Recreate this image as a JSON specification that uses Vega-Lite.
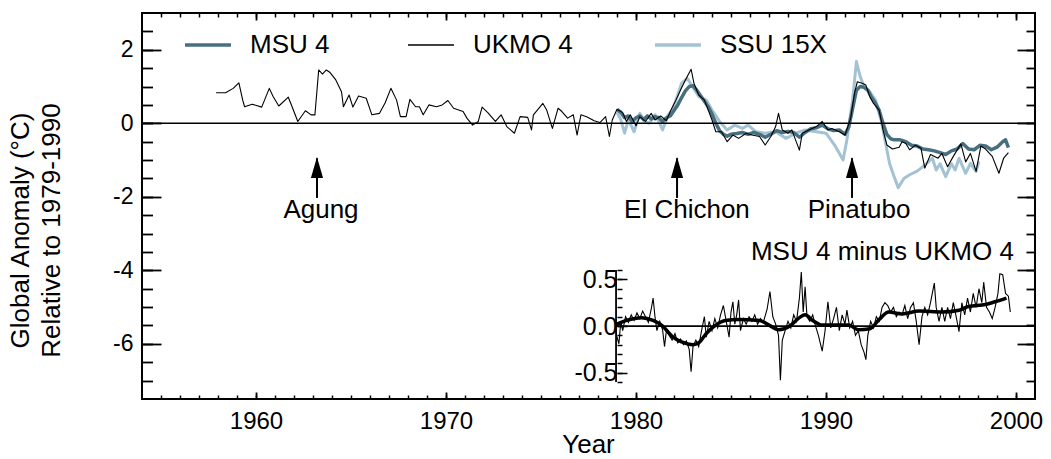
{
  "$schema": "https://vega.github.io/schema/vega-lite/v6.json",
  "width": 893,
  "height": 386,
  "autosize": {"type": "none"},
  "padding": {"left": 142, "top": 13, "right": 16, "bottom": 60},
  "background": "white",
  "config": {
    "view": {"stroke": "black", "strokeWidth": 2},
    "font": "Liberation Sans",
    "axis": {"tickColor": "black", "labelColor": "black", "titleColor": "black", "labelFont": "Liberation Sans", "titleFont": "Liberation Sans", "grid": false, "domain": false, "labelFlush": false},
    "legend": {"labelFont": "Liberation Sans", "labelColor": "black"},
    "text": {"font": "Liberation Sans", "fontSize": 26, "color": "black"}
  },
  "datasets": {
    "main": [
      {"series": "SSU 15X", "year": 1979.0, "value": 0.3},
      {"series": "SSU 15X", "year": 1979.2, "value": 0.1},
      {"series": "SSU 15X", "year": 1979.4, "value": -0.27},
      {"series": "SSU 15X", "year": 1979.6, "value": 0.1},
      {"series": "SSU 15X", "year": 1979.9, "value": -0.23},
      {"series": "SSU 15X", "year": 1980.2, "value": 0.27},
      {"series": "SSU 15X", "year": 1980.45, "value": 0.05},
      {"series": "SSU 15X", "year": 1980.7, "value": 0.0},
      {"series": "SSU 15X", "year": 1981.0, "value": 0.23},
      {"series": "SSU 15X", "year": 1981.2, "value": 0.05},
      {"series": "SSU 15X", "year": 1981.4, "value": -0.18},
      {"series": "SSU 15X", "year": 1981.7, "value": 0.23},
      {"series": "SSU 15X", "year": 1981.9, "value": 0.35},
      {"series": "SSU 15X", "year": 1982.1, "value": 0.63},
      {"series": "SSU 15X", "year": 1982.4, "value": 1.09},
      {"series": "SSU 15X", "year": 1982.7, "value": 1.22},
      {"series": "SSU 15X", "year": 1983.0, "value": 0.98},
      {"series": "SSU 15X", "year": 1983.3, "value": 0.73},
      {"series": "SSU 15X", "year": 1983.7, "value": 0.63},
      {"series": "SSU 15X", "year": 1984.0, "value": 0.36},
      {"series": "SSU 15X", "year": 1984.4, "value": 0.05},
      {"series": "SSU 15X", "year": 1984.8, "value": -0.18},
      {"series": "SSU 15X", "year": 1985.2, "value": -0.05},
      {"series": "SSU 15X", "year": 1985.6, "value": -0.14},
      {"series": "SSU 15X", "year": 1985.9, "value": -0.05},
      {"series": "SSU 15X", "year": 1986.3, "value": -0.23},
      {"series": "SSU 15X", "year": 1986.8, "value": -0.27},
      {"series": "SSU 15X", "year": 1987.35, "value": -0.23},
      {"series": "SSU 15X", "year": 1987.9, "value": -0.41},
      {"series": "SSU 15X", "year": 1988.4, "value": -0.27},
      {"series": "SSU 15X", "year": 1988.9, "value": -0.18},
      {"series": "SSU 15X", "year": 1989.5, "value": -0.23},
      {"series": "SSU 15X", "year": 1990.0, "value": -0.27},
      {"series": "SSU 15X", "year": 1990.5, "value": -0.63},
      {"series": "SSU 15X", "year": 1990.9, "value": -1.0},
      {"series": "SSU 15X", "year": 1991.1, "value": -0.45},
      {"series": "SSU 15X", "year": 1991.4, "value": 0.63},
      {"series": "SSU 15X", "year": 1991.6, "value": 1.68},
      {"series": "SSU 15X", "year": 1991.8, "value": 1.27},
      {"series": "SSU 15X", "year": 1992.0, "value": 1.0},
      {"series": "SSU 15X", "year": 1992.3, "value": 0.86},
      {"series": "SSU 15X", "year": 1992.6, "value": 0.63},
      {"series": "SSU 15X", "year": 1992.9, "value": 0.09},
      {"series": "SSU 15X", "year": 1993.1, "value": -0.45},
      {"series": "SSU 15X", "year": 1993.35, "value": -1.1},
      {"series": "SSU 15X", "year": 1993.55, "value": -1.4},
      {"series": "SSU 15X", "year": 1993.8, "value": -1.75},
      {"series": "SSU 15X", "year": 1994.1, "value": -1.5},
      {"series": "SSU 15X", "year": 1994.4, "value": -1.4},
      {"series": "SSU 15X", "year": 1994.8, "value": -1.3},
      {"series": "SSU 15X", "year": 1995.1, "value": -1.18},
      {"series": "SSU 15X", "year": 1995.4, "value": -1.04},
      {"series": "SSU 15X", "year": 1995.6, "value": -0.95},
      {"series": "SSU 15X", "year": 1995.8, "value": -1.27},
      {"series": "SSU 15X", "year": 1996.0, "value": -1.1},
      {"series": "SSU 15X", "year": 1996.3, "value": -1.45},
      {"series": "SSU 15X", "year": 1996.6, "value": -1.1},
      {"series": "SSU 15X", "year": 1996.8, "value": -1.27},
      {"series": "SSU 15X", "year": 1997.0, "value": -0.95},
      {"series": "SSU 15X", "year": 1997.35, "value": -1.36},
      {"series": "SSU 15X", "year": 1997.6, "value": -1.09},
      {"series": "SSU 15X", "year": 1997.9, "value": -1.31},
      {"series": "SSU 15X", "year": 1998.05, "value": -1.04},

      {"series": "MSU 4", "year": 1979.0, "value": 0.38},
      {"series": "MSU 4", "year": 1979.2, "value": 0.3},
      {"series": "MSU 4", "year": 1979.4, "value": 0.15},
      {"series": "MSU 4", "year": 1979.6, "value": 0.2},
      {"series": "MSU 4", "year": 1979.8, "value": 0.05},
      {"series": "MSU 4", "year": 1980.0, "value": 0.15},
      {"series": "MSU 4", "year": 1980.2, "value": 0.2},
      {"series": "MSU 4", "year": 1980.4, "value": 0.1},
      {"series": "MSU 4", "year": 1980.6, "value": 0.2},
      {"series": "MSU 4", "year": 1980.8, "value": 0.12},
      {"series": "MSU 4", "year": 1981.0, "value": 0.18},
      {"series": "MSU 4", "year": 1981.2, "value": 0.15},
      {"series": "MSU 4", "year": 1981.4, "value": 0.05},
      {"series": "MSU 4", "year": 1981.6, "value": 0.15},
      {"series": "MSU 4", "year": 1981.8, "value": 0.2},
      {"series": "MSU 4", "year": 1982.0, "value": 0.35},
      {"series": "MSU 4", "year": 1982.2, "value": 0.5},
      {"series": "MSU 4", "year": 1982.4, "value": 0.7},
      {"series": "MSU 4", "year": 1982.6, "value": 0.88},
      {"series": "MSU 4", "year": 1982.8, "value": 1.0},
      {"series": "MSU 4", "year": 1983.0, "value": 1.02},
      {"series": "MSU 4", "year": 1983.2, "value": 0.9},
      {"series": "MSU 4", "year": 1983.4, "value": 0.75},
      {"series": "MSU 4", "year": 1983.6, "value": 0.6},
      {"series": "MSU 4", "year": 1983.8, "value": 0.45},
      {"series": "MSU 4", "year": 1984.0, "value": 0.25},
      {"series": "MSU 4", "year": 1984.2, "value": 0.0},
      {"series": "MSU 4", "year": 1984.4, "value": -0.2},
      {"series": "MSU 4", "year": 1984.6, "value": -0.3},
      {"series": "MSU 4", "year": 1984.8, "value": -0.35},
      {"series": "MSU 4", "year": 1985.0, "value": -0.3},
      {"series": "MSU 4", "year": 1985.3, "value": -0.28},
      {"series": "MSU 4", "year": 1985.6, "value": -0.25},
      {"series": "MSU 4", "year": 1985.9, "value": -0.3},
      {"series": "MSU 4", "year": 1986.2, "value": -0.25},
      {"series": "MSU 4", "year": 1986.5, "value": -0.3},
      {"series": "MSU 4", "year": 1986.8, "value": -0.38},
      {"series": "MSU 4", "year": 1987.1, "value": -0.3},
      {"series": "MSU 4", "year": 1987.4, "value": -0.2},
      {"series": "MSU 4", "year": 1987.7, "value": -0.25},
      {"series": "MSU 4", "year": 1988.0, "value": -0.22},
      {"series": "MSU 4", "year": 1988.3, "value": -0.25},
      {"series": "MSU 4", "year": 1988.6, "value": -0.38},
      {"series": "MSU 4", "year": 1988.9, "value": -0.25},
      {"series": "MSU 4", "year": 1989.2, "value": -0.15},
      {"series": "MSU 4", "year": 1989.5, "value": -0.12},
      {"series": "MSU 4", "year": 1989.8, "value": -0.05},
      {"series": "MSU 4", "year": 1990.1, "value": -0.15},
      {"series": "MSU 4", "year": 1990.4, "value": -0.2},
      {"series": "MSU 4", "year": 1990.7, "value": -0.18},
      {"series": "MSU 4", "year": 1991.0, "value": -0.3},
      {"series": "MSU 4", "year": 1991.2, "value": -0.1},
      {"series": "MSU 4", "year": 1991.4, "value": 0.4},
      {"series": "MSU 4", "year": 1991.6, "value": 0.9},
      {"series": "MSU 4", "year": 1991.8, "value": 1.0},
      {"series": "MSU 4", "year": 1992.0, "value": 0.98},
      {"series": "MSU 4", "year": 1992.2, "value": 0.9},
      {"series": "MSU 4", "year": 1992.4, "value": 0.7},
      {"series": "MSU 4", "year": 1992.6, "value": 0.55},
      {"series": "MSU 4", "year": 1992.8, "value": 0.35},
      {"series": "MSU 4", "year": 1993.0, "value": 0.0},
      {"series": "MSU 4", "year": 1993.2, "value": -0.3},
      {"series": "MSU 4", "year": 1993.4, "value": -0.42},
      {"series": "MSU 4", "year": 1993.6, "value": -0.45},
      {"series": "MSU 4", "year": 1993.9, "value": -0.45},
      {"series": "MSU 4", "year": 1994.2, "value": -0.5},
      {"series": "MSU 4", "year": 1994.5, "value": -0.6},
      {"series": "MSU 4", "year": 1994.8, "value": -0.62},
      {"series": "MSU 4", "year": 1995.1, "value": -0.7},
      {"series": "MSU 4", "year": 1995.4, "value": -0.72},
      {"series": "MSU 4", "year": 1995.7, "value": -0.75},
      {"series": "MSU 4", "year": 1996.0, "value": -0.8},
      {"series": "MSU 4", "year": 1996.3, "value": -0.85},
      {"series": "MSU 4", "year": 1996.6, "value": -0.75},
      {"series": "MSU 4", "year": 1996.9, "value": -0.7},
      {"series": "MSU 4", "year": 1997.2, "value": -0.55},
      {"series": "MSU 4", "year": 1997.5, "value": -0.7},
      {"series": "MSU 4", "year": 1997.8, "value": -0.72},
      {"series": "MSU 4", "year": 1998.1, "value": -0.6},
      {"series": "MSU 4", "year": 1998.4, "value": -0.62},
      {"series": "MSU 4", "year": 1998.7, "value": -0.72},
      {"series": "MSU 4", "year": 1999.0, "value": -0.65},
      {"series": "MSU 4", "year": 1999.3, "value": -0.5},
      {"series": "MSU 4", "year": 1999.45, "value": -0.45},
      {"series": "MSU 4", "year": 1999.6, "value": -0.66},

      {"series": "UKMO 4", "year": 1957.9, "value": 0.83},
      {"series": "UKMO 4", "year": 1958.4, "value": 0.83},
      {"series": "UKMO 4", "year": 1958.8, "value": 0.95},
      {"series": "UKMO 4", "year": 1959.1, "value": 1.1},
      {"series": "UKMO 4", "year": 1959.3, "value": 0.63},
      {"series": "UKMO 4", "year": 1959.4, "value": 0.45},
      {"series": "UKMO 4", "year": 1959.8, "value": 0.52},
      {"series": "UKMO 4", "year": 1960.3, "value": 0.44},
      {"series": "UKMO 4", "year": 1960.7, "value": 0.95},
      {"series": "UKMO 4", "year": 1960.9, "value": 0.73},
      {"series": "UKMO 4", "year": 1961.2, "value": 0.47},
      {"series": "UKMO 4", "year": 1961.7, "value": 0.71},
      {"series": "UKMO 4", "year": 1961.9, "value": 0.45},
      {"series": "UKMO 4", "year": 1962.2, "value": 0.05},
      {"series": "UKMO 4", "year": 1962.6, "value": 0.34},
      {"series": "UKMO 4", "year": 1962.9, "value": 0.23},
      {"series": "UKMO 4", "year": 1963.1, "value": 0.23},
      {"series": "UKMO 4", "year": 1963.3, "value": 1.45},
      {"series": "UKMO 4", "year": 1963.5, "value": 1.34},
      {"series": "UKMO 4", "year": 1963.7, "value": 1.45},
      {"series": "UKMO 4", "year": 1963.9, "value": 1.38},
      {"series": "UKMO 4", "year": 1964.2, "value": 1.18},
      {"series": "UKMO 4", "year": 1964.5, "value": 0.86},
      {"series": "UKMO 4", "year": 1964.6, "value": 0.45},
      {"series": "UKMO 4", "year": 1964.9, "value": 0.77},
      {"series": "UKMO 4", "year": 1965.1, "value": 0.44},
      {"series": "UKMO 4", "year": 1965.4, "value": 0.74},
      {"series": "UKMO 4", "year": 1965.8, "value": 0.68},
      {"series": "UKMO 4", "year": 1966.1, "value": 0.23},
      {"series": "UKMO 4", "year": 1966.5, "value": 0.27},
      {"series": "UKMO 4", "year": 1966.8, "value": 0.56},
      {"series": "UKMO 4", "year": 1967.1, "value": 0.95},
      {"series": "UKMO 4", "year": 1967.4, "value": 0.63},
      {"series": "UKMO 4", "year": 1967.6, "value": 0.18},
      {"series": "UKMO 4", "year": 1967.9, "value": 0.18},
      {"series": "UKMO 4", "year": 1968.1, "value": 0.65},
      {"series": "UKMO 4", "year": 1968.4, "value": 0.45},
      {"series": "UKMO 4", "year": 1968.6, "value": 0.45},
      {"series": "UKMO 4", "year": 1968.8, "value": 0.23},
      {"series": "UKMO 4", "year": 1969.1, "value": 0.5},
      {"series": "UKMO 4", "year": 1969.5, "value": 0.45},
      {"series": "UKMO 4", "year": 1969.8, "value": 0.5},
      {"series": "UKMO 4", "year": 1970.1, "value": 0.62},
      {"series": "UKMO 4", "year": 1970.4, "value": 0.41},
      {"series": "UKMO 4", "year": 1970.9, "value": 0.32},
      {"series": "UKMO 4", "year": 1971.1, "value": 0.14},
      {"series": "UKMO 4", "year": 1971.4, "value": -0.05},
      {"series": "UKMO 4", "year": 1971.7, "value": 0.05},
      {"series": "UKMO 4", "year": 1971.9, "value": 0.44},
      {"series": "UKMO 4", "year": 1972.2, "value": 0.29},
      {"series": "UKMO 4", "year": 1972.6, "value": 0.05},
      {"series": "UKMO 4", "year": 1972.9, "value": 0.23},
      {"series": "UKMO 4", "year": 1973.2, "value": -0.09},
      {"series": "UKMO 4", "year": 1973.6, "value": -0.27},
      {"series": "UKMO 4", "year": 1973.9, "value": 0.18},
      {"series": "UKMO 4", "year": 1974.3, "value": 0.16},
      {"series": "UKMO 4", "year": 1974.5, "value": -0.18},
      {"series": "UKMO 4", "year": 1974.6, "value": 0.23},
      {"series": "UKMO 4", "year": 1975.1, "value": 0.54},
      {"series": "UKMO 4", "year": 1975.3, "value": 0.36},
      {"series": "UKMO 4", "year": 1975.6, "value": -0.14},
      {"series": "UKMO 4", "year": 1975.9, "value": 0.41},
      {"series": "UKMO 4", "year": 1976.1, "value": 0.32},
      {"series": "UKMO 4", "year": 1976.4, "value": 0.14},
      {"series": "UKMO 4", "year": 1976.7, "value": 0.23},
      {"series": "UKMO 4", "year": 1976.9, "value": -0.32},
      {"series": "UKMO 4", "year": 1977.1, "value": 0.23},
      {"series": "UKMO 4", "year": 1977.4, "value": 0.18},
      {"series": "UKMO 4", "year": 1977.8, "value": 0.07},
      {"series": "UKMO 4", "year": 1978.1, "value": 0.02},
      {"series": "UKMO 4", "year": 1978.4, "value": 0.18},
      {"series": "UKMO 4", "year": 1978.6, "value": -0.36},
      {"series": "UKMO 4", "year": 1978.75, "value": 0.09},
      {"series": "UKMO 4", "year": 1979.0, "value": 0.38},
      {"series": "UKMO 4", "year": 1979.3, "value": 0.29},
      {"series": "UKMO 4", "year": 1979.5, "value": 0.05},
      {"series": "UKMO 4", "year": 1979.7, "value": 0.23},
      {"series": "UKMO 4", "year": 1980.0, "value": -0.07},
      {"series": "UKMO 4", "year": 1980.2, "value": 0.18},
      {"series": "UKMO 4", "year": 1980.5, "value": 0.05},
      {"series": "UKMO 4", "year": 1980.8, "value": 0.27},
      {"series": "UKMO 4", "year": 1981.0, "value": 0.09},
      {"series": "UKMO 4", "year": 1981.3, "value": 0.2},
      {"series": "UKMO 4", "year": 1981.6, "value": 0.07},
      {"series": "UKMO 4", "year": 1981.8, "value": 0.32},
      {"series": "UKMO 4", "year": 1982.1, "value": 0.63},
      {"series": "UKMO 4", "year": 1982.35, "value": 0.91},
      {"series": "UKMO 4", "year": 1982.6, "value": 1.18},
      {"series": "UKMO 4", "year": 1982.9, "value": 1.47},
      {"series": "UKMO 4", "year": 1983.05, "value": 1.09},
      {"series": "UKMO 4", "year": 1983.3, "value": 0.77},
      {"series": "UKMO 4", "year": 1983.6, "value": 0.63},
      {"series": "UKMO 4", "year": 1983.8, "value": 0.36},
      {"series": "UKMO 4", "year": 1984.0, "value": 0.09},
      {"series": "UKMO 4", "year": 1984.2, "value": -0.23},
      {"series": "UKMO 4", "year": 1984.5, "value": -0.23},
      {"series": "UKMO 4", "year": 1984.8, "value": -0.5},
      {"series": "UKMO 4", "year": 1985.1, "value": -0.32},
      {"series": "UKMO 4", "year": 1985.4, "value": -0.41},
      {"series": "UKMO 4", "year": 1985.8, "value": -0.27},
      {"series": "UKMO 4", "year": 1986.1, "value": -0.32},
      {"series": "UKMO 4", "year": 1986.5, "value": -0.36},
      {"series": "UKMO 4", "year": 1986.8, "value": -0.59},
      {"series": "UKMO 4", "year": 1987.1, "value": -0.36},
      {"series": "UKMO 4", "year": 1987.35, "value": -0.09},
      {"series": "UKMO 4", "year": 1987.5, "value": 0.27},
      {"series": "UKMO 4", "year": 1987.7, "value": -0.18},
      {"series": "UKMO 4", "year": 1988.0, "value": -0.27},
      {"series": "UKMO 4", "year": 1988.2, "value": -0.18},
      {"series": "UKMO 4", "year": 1988.6, "value": -0.73},
      {"series": "UKMO 4", "year": 1988.75, "value": -0.27},
      {"series": "UKMO 4", "year": 1989.1, "value": -0.18},
      {"series": "UKMO 4", "year": 1989.5, "value": -0.09},
      {"series": "UKMO 4", "year": 1989.8, "value": 0.05},
      {"series": "UKMO 4", "year": 1990.1, "value": -0.18},
      {"series": "UKMO 4", "year": 1990.3, "value": -0.14},
      {"series": "UKMO 4", "year": 1990.7, "value": -0.23},
      {"series": "UKMO 4", "year": 1991.0, "value": -0.32},
      {"series": "UKMO 4", "year": 1991.3, "value": 0.14},
      {"series": "UKMO 4", "year": 1991.5, "value": 0.82},
      {"series": "UKMO 4", "year": 1991.65, "value": 1.13},
      {"series": "UKMO 4", "year": 1991.9, "value": 1.09},
      {"series": "UKMO 4", "year": 1992.1, "value": 1.04},
      {"series": "UKMO 4", "year": 1992.3, "value": 0.73},
      {"series": "UKMO 4", "year": 1992.5, "value": 0.54},
      {"series": "UKMO 4", "year": 1992.8, "value": 0.36},
      {"series": "UKMO 4", "year": 1993.0, "value": -0.18},
      {"series": "UKMO 4", "year": 1993.2, "value": -0.59},
      {"series": "UKMO 4", "year": 1993.5, "value": -0.7},
      {"series": "UKMO 4", "year": 1993.85, "value": -0.65},
      {"series": "UKMO 4", "year": 1994.0, "value": -0.5},
      {"series": "UKMO 4", "year": 1994.2, "value": -0.55},
      {"series": "UKMO 4", "year": 1994.4, "value": -0.72},
      {"series": "UKMO 4", "year": 1994.7, "value": -0.6},
      {"series": "UKMO 4", "year": 1995.0, "value": -0.68},
      {"series": "UKMO 4", "year": 1995.2, "value": -1.22},
      {"series": "UKMO 4", "year": 1995.5, "value": -0.85},
      {"series": "UKMO 4", "year": 1995.9, "value": -0.95},
      {"series": "UKMO 4", "year": 1996.1, "value": -0.82},
      {"series": "UKMO 4", "year": 1996.4, "value": -1.18},
      {"series": "UKMO 4", "year": 1996.7, "value": -0.9},
      {"series": "UKMO 4", "year": 1997.1, "value": -0.56},
      {"series": "UKMO 4", "year": 1997.35, "value": -1.05},
      {"series": "UKMO 4", "year": 1997.6, "value": -0.82},
      {"series": "UKMO 4", "year": 1997.9, "value": -1.31},
      {"series": "UKMO 4", "year": 1998.15, "value": -0.62},
      {"series": "UKMO 4", "year": 1998.4, "value": -0.7},
      {"series": "UKMO 4", "year": 1998.75, "value": -0.9},
      {"series": "UKMO 4", "year": 1999.1, "value": -1.36},
      {"series": "UKMO 4", "year": 1999.35, "value": -0.95},
      {"series": "UKMO 4", "year": 1999.6, "value": -0.8}
    ],
    "events": [
      {"name": "Agung", "year": 1963.21, "label_year": 1963.42},
      {"name": "El Chichon", "year": 1982.16, "label_year": 1982.68},
      {"name": "Pinatubo", "year": 1991.37, "label_year": 1991.74}
    ],
    "inset_label": [
      {"name": "MSU 4 minus UKMO 4", "year": 1999.89, "value": 0.707}
    ],
    "inset_frame": [
      {"x1": 1978.95, "x2": 2001, "y1": 0, "y2": 0},
      {"x1": 1978.95, "x2": 1978.95, "y1": -0.6, "y2": 0.6}
    ],
    "diff": [
      {"year": 1978.9, "value": 0.0}, {"year": 1979.0, "value": -0.12}, {"year": 1979.1, "value": -0.19},
      {"year": 1979.2, "value": 0.05}, {"year": 1979.3, "value": -0.05}, {"year": 1979.45, "value": 0.1},
      {"year": 1979.6, "value": 0.04}, {"year": 1979.75, "value": 0.12}, {"year": 1979.9, "value": 0.06},
      {"year": 1980.05, "value": 0.14}, {"year": 1980.2, "value": 0.08}, {"year": 1980.35, "value": 0.16},
      {"year": 1980.5, "value": 0.1}, {"year": 1980.65, "value": 0.04}, {"year": 1980.8, "value": 0.18},
      {"year": 1980.9, "value": 0.3}, {"year": 1981.0, "value": 0.1}, {"year": 1981.1, "value": -0.05},
      {"year": 1981.25, "value": 0.05}, {"year": 1981.4, "value": -0.04}, {"year": 1981.5, "value": -0.22},
      {"year": 1981.6, "value": -0.05}, {"year": 1981.75, "value": -0.1}, {"year": 1981.9, "value": -0.15},
      {"year": 1982.05, "value": -0.08}, {"year": 1982.2, "value": -0.18}, {"year": 1982.35, "value": -0.14},
      {"year": 1982.5, "value": -0.2}, {"year": 1982.65, "value": -0.16}, {"year": 1982.8, "value": -0.25},
      {"year": 1982.9, "value": -0.49}, {"year": 1983.0, "value": -0.22}, {"year": 1983.15, "value": -0.15},
      {"year": 1983.3, "value": -0.22}, {"year": 1983.45, "value": -0.05}, {"year": 1983.6, "value": 0.1},
      {"year": 1983.7, "value": -0.12}, {"year": 1983.85, "value": 0.05}, {"year": 1984.0, "value": -0.05},
      {"year": 1984.15, "value": 0.08}, {"year": 1984.3, "value": -0.02}, {"year": 1984.45, "value": 0.12},
      {"year": 1984.6, "value": 0.22}, {"year": 1984.75, "value": 0.05}, {"year": 1984.9, "value": -0.12},
      {"year": 1985.0, "value": 0.15}, {"year": 1985.1, "value": 0.26}, {"year": 1985.2, "value": 0.02},
      {"year": 1985.3, "value": 0.12}, {"year": 1985.4, "value": 0.28}, {"year": 1985.5, "value": -0.05},
      {"year": 1985.65, "value": 0.08}, {"year": 1985.8, "value": 0.02}, {"year": 1985.95, "value": 0.1},
      {"year": 1986.1, "value": 0.05}, {"year": 1986.25, "value": 0.12}, {"year": 1986.4, "value": 0.02},
      {"year": 1986.55, "value": 0.08}, {"year": 1986.7, "value": 0.04}, {"year": 1986.9, "value": 0.18},
      {"year": 1987.05, "value": 0.37}, {"year": 1987.2, "value": 0.1}, {"year": 1987.35, "value": 0.02},
      {"year": 1987.5, "value": -0.1}, {"year": 1987.6, "value": -0.58}, {"year": 1987.7, "value": -0.15},
      {"year": 1987.85, "value": -0.05}, {"year": 1988.0, "value": 0.05}, {"year": 1988.15, "value": -0.02},
      {"year": 1988.3, "value": 0.12}, {"year": 1988.45, "value": 0.05}, {"year": 1988.6, "value": 0.3},
      {"year": 1988.7, "value": 0.58}, {"year": 1988.8, "value": 0.15}, {"year": 1988.9, "value": 0.42},
      {"year": 1989.0, "value": 0.1}, {"year": 1989.15, "value": 0.05}, {"year": 1989.3, "value": 0.12},
      {"year": 1989.45, "value": 0.0}, {"year": 1989.6, "value": -0.1}, {"year": 1989.8, "value": -0.27},
      {"year": 1989.95, "value": -0.05}, {"year": 1990.1, "value": 0.26}, {"year": 1990.25, "value": -0.02},
      {"year": 1990.4, "value": 0.08}, {"year": 1990.55, "value": 0.2}, {"year": 1990.7, "value": -0.05},
      {"year": 1990.85, "value": 0.12}, {"year": 1991.0, "value": 0.02}, {"year": 1991.1, "value": 0.17},
      {"year": 1991.25, "value": -0.02}, {"year": 1991.4, "value": 0.05}, {"year": 1991.55, "value": -0.1},
      {"year": 1991.7, "value": -0.05}, {"year": 1991.85, "value": -0.2}, {"year": 1992.0, "value": -0.28},
      {"year": 1992.1, "value": -0.36}, {"year": 1992.2, "value": -0.1}, {"year": 1992.35, "value": 0.05},
      {"year": 1992.5, "value": -0.02}, {"year": 1992.65, "value": 0.1}, {"year": 1992.8, "value": 0.05},
      {"year": 1992.95, "value": 0.2}, {"year": 1993.1, "value": 0.25}, {"year": 1993.25, "value": 0.22},
      {"year": 1993.4, "value": 0.15}, {"year": 1993.55, "value": 0.2}, {"year": 1993.7, "value": 0.1},
      {"year": 1993.85, "value": 0.15}, {"year": 1994.0, "value": 0.12}, {"year": 1994.15, "value": 0.22},
      {"year": 1994.3, "value": 0.08}, {"year": 1994.45, "value": 0.2}, {"year": 1994.6, "value": 0.25},
      {"year": 1994.75, "value": 0.05}, {"year": 1994.9, "value": -0.2}, {"year": 1995.05, "value": 0.1},
      {"year": 1995.2, "value": 0.2}, {"year": 1995.35, "value": 0.12}, {"year": 1995.5, "value": 0.25},
      {"year": 1995.7, "value": 0.46}, {"year": 1995.8, "value": 0.2}, {"year": 1995.95, "value": 0.05},
      {"year": 1996.1, "value": 0.2}, {"year": 1996.25, "value": 0.05}, {"year": 1996.4, "value": 0.2},
      {"year": 1996.55, "value": 0.08}, {"year": 1996.7, "value": 0.25}, {"year": 1996.85, "value": 0.1},
      {"year": 1997.0, "value": -0.06}, {"year": 1997.15, "value": 0.25}, {"year": 1997.3, "value": 0.12},
      {"year": 1997.45, "value": 0.3}, {"year": 1997.6, "value": 0.15}, {"year": 1997.75, "value": 0.35},
      {"year": 1997.9, "value": 0.2}, {"year": 1998.05, "value": 0.4}, {"year": 1998.2, "value": 0.25},
      {"year": 1998.3, "value": 0.47}, {"year": 1998.45, "value": 0.2}, {"year": 1998.6, "value": 0.15},
      {"year": 1998.75, "value": 0.08}, {"year": 1998.9, "value": 0.2}, {"year": 1999.05, "value": 0.35},
      {"year": 1999.15, "value": 0.56}, {"year": 1999.3, "value": 0.55}, {"year": 1999.45, "value": 0.35},
      {"year": 1999.6, "value": 0.32}, {"year": 1999.7, "value": 0.15}
    ],
    "smooth": [
      {"year": 1978.9, "value": 0.01}, {"year": 1979.5, "value": 0.06}, {"year": 1980.3, "value": 0.09},
      {"year": 1980.9, "value": 0.06}, {"year": 1981.4, "value": 0.0}, {"year": 1981.9, "value": -0.11},
      {"year": 1982.4, "value": -0.17}, {"year": 1983.0, "value": -0.2}, {"year": 1983.3, "value": -0.18},
      {"year": 1983.7, "value": -0.08}, {"year": 1984.2, "value": 0.01}, {"year": 1984.7, "value": 0.06},
      {"year": 1985.4, "value": 0.07}, {"year": 1986.5, "value": 0.06}, {"year": 1987.0, "value": 0.01},
      {"year": 1987.5, "value": -0.04}, {"year": 1988.1, "value": 0.0}, {"year": 1988.6, "value": 0.09},
      {"year": 1988.9, "value": 0.12}, {"year": 1989.3, "value": 0.06}, {"year": 1989.8, "value": 0.01},
      {"year": 1990.5, "value": 0.01}, {"year": 1991.2, "value": 0.01}, {"year": 1991.7, "value": -0.04},
      {"year": 1992.3, "value": -0.03}, {"year": 1992.8, "value": 0.07}, {"year": 1993.3, "value": 0.15},
      {"year": 1994.0, "value": 0.13}, {"year": 1994.9, "value": 0.16}, {"year": 1996.1, "value": 0.15},
      {"year": 1997.0, "value": 0.17}, {"year": 1997.5, "value": 0.21}, {"year": 1998.4, "value": 0.23},
      {"year": 1998.9, "value": 0.26}, {"year": 1999.5, "value": 0.3}
    ]
  },
  "layer": [
    {
      "layer": [
        {
          "data": {"name": "main"},
          "transform": [{"filter": "datum.series === 'SSU 15X'"}],
          "mark": {"type": "line", "strokeJoin": "round", "strokeWidth": 3},
          "encoding": {
            "x": {"field": "year", "type": "quantitative", "scale": {"domain": [1954, 2001], "nice": false, "zero": false},
              "axis": {"orient": "bottom", "values": [1960, 1970, 1980, 1990, 2000], "tickSize": -7, "tickWidth": 1.8, "labelFontSize": 24, "labelBaseline": "alphabetic", "labelPadding": 36, "labelExpr": "'' + datum.value", "title": "Year", "titleFontSize": 26, "titleFontWeight": "normal", "titleBaseline": "alphabetic", "titleX": 446, "titleY": 53}},
            "y": {"field": "value", "type": "quantitative", "scale": {"domain": [-7.5, 3], "nice": false, "zero": false},
              "axis": {"orient": "left", "values": [-6, -4, -2, 0, 2], "tickSize": -19, "tickWidth": 1.8, "labelFontSize": 23, "labelPadding": 28, "labelExpr": "'' + datum.value", "title": ["Global Anomaly (°C)", "Relative to 1979-1990"], "titleFontSize": 26, "titleFontWeight": "normal", "titleLineHeight": 31, "titleAngle": -90, "titleAlign": "center", "titleBaseline": "middle", "titleX": -122, "titleY": 217}},
            "color": {"field": "series", "type": "nominal",
              "scale": {"domain": ["MSU 4", "UKMO 4", "SSU 15X"], "range": ["#476f80", "#000000", "#a3c2d3"]},
              "legend": {"orient": "none", "legendX": 53, "legendY": 19, "direction": "horizontal", "title": null, "symbolType": "stroke", "symbolSize": 2116, "symbolStrokeWidth": 3, "labelFontSize": 26, "labelOffset": 29, "columnPadding": 75, "padding": 0,
                "encode": {"symbols": {"update": {"strokeWidth": {"signal": "datum.value === 'UKMO 4' ? 1.3 : 3.5"}}}}}}
          }
        },
        {
          "data": {"name": "main"},
          "transform": [{"filter": "datum.series === 'MSU 4'"}],
          "mark": {"type": "line", "strokeJoin": "round", "strokeWidth": 3.5},
          "encoding": {
            "x": {"field": "year", "type": "quantitative", "scale": {"domain": [1954, 2001], "nice": false, "zero": false}, "axis": null},
            "y": {"field": "value", "type": "quantitative", "scale": {"domain": [-7.5, 3], "nice": false, "zero": false}, "axis": null},
            "color": {"field": "series", "type": "nominal"}
          }
        },
        {
          "data": {"name": "main"},
          "transform": [{"filter": "datum.series === 'UKMO 4'"}],
          "mark": {"type": "line", "strokeJoin": "round", "strokeWidth": 1.1},
          "encoding": {
            "x": {"field": "year", "type": "quantitative", "scale": {"domain": [1954, 2001], "nice": false, "zero": false}, "axis": null},
            "y": {"field": "value", "type": "quantitative", "scale": {"domain": [-7.5, 3], "nice": false, "zero": false}, "axis": null},
            "color": {"field": "series", "type": "nominal"}
          }
        },
        {
          "data": {"name": "inset_label"},
          "mark": {"type": "rule", "color": "black", "strokeWidth": 1.5},
          "encoding": {"y": {"datum": 0, "type": "quantitative", "axis": null}}
        },
        {
          "data": {"name": "events"},
          "mark": {"type": "rule", "color": "black", "strokeWidth": 2},
          "encoding": {
            "x": {"field": "year", "type": "quantitative", "scale": {"domain": [1954, 2001], "nice": false, "zero": false},
              "axis": {"orient": "bottom", "values": [1955,1956,1957,1958,1959,1960,1961,1962,1963,1964,1965,1966,1967,1968,1969,1970,1971,1972,1973,1974,1975,1976,1977,1978,1979,1980,1981,1982,1983,1984,1985,1986,1987,1988,1989,1990,1991,1992,1993,1994,1995,1996,1997,1998,1999,2000], "tickSize": -4, "tickWidth": 1.5, "labels": false, "title": null}},
            "y": {"datum": -0.95, "type": "quantitative",
              "axis": {"orient": "left", "values": [-7,-6.5,-6,-5.5,-5,-4.5,-4,-3.5,-3,-2.5,-2,-1.5,-1,-0.5,0,0.5,1,1.5,2,2.5], "tickSize": -10.5, "tickWidth": 1.8, "labels": false, "title": null}},
            "y2": {"datum": -2.03}
          }
        },
        {
          "data": {"name": "events"},
          "mark": {"type": "point", "shape": "M0,-1L-0.58,1L0.58,1Z", "filled": true, "color": "black", "opacity": 1, "size": 441},
          "encoding": {
            "x": {"field": "year", "type": "quantitative", "scale": {"domain": [1954, 2001], "nice": false, "zero": false},
              "axis": {"orient": "top", "values": [1960, 1970, 1980, 1990, 2000], "tickSize": -7, "tickWidth": 1.8, "labels": false, "title": null}},
            "y": {"datum": -1.2, "type": "quantitative",
              "axis": {"orient": "right", "values": [-6, -4, -2, 0, 2], "tickSize": -18, "tickWidth": 1.8, "labels": false, "title": null}}
          }
        },
        {
          "data": {"name": "events"},
          "mark": {"type": "text", "fontSize": 26, "align": "center", "baseline": "alphabetic"},
          "encoding": {
            "x": {"field": "label_year", "type": "quantitative", "scale": {"domain": [1954, 2001], "nice": false, "zero": false},
              "axis": {"orient": "top", "values": [1955,1956,1957,1958,1959,1960,1961,1962,1963,1964,1965,1966,1967,1968,1969,1970,1971,1972,1973,1974,1975,1976,1977,1978,1979,1980,1981,1982,1983,1984,1985,1986,1987,1988,1989,1990,1991,1992,1993,1994,1995,1996,1997,1998,1999,2000], "tickSize": -4, "tickWidth": 1.5, "labels": false, "title": null}},
            "y": {"datum": -2.58, "type": "quantitative",
              "axis": {"orient": "right", "values": [-7,-6.5,-6,-5.5,-5,-4.5,-4,-3.5,-3,-2.5,-2,-1.5,-1,-0.5,0,0.5,1,1.5,2,2.5], "tickSize": -9, "tickWidth": 1.8, "labels": false, "title": null}},
            "text": {"field": "name"}
          }
        }
      ],
      "resolve": {"axis": {"x": "independent", "y": "independent"}}
    },
    {
      "layer": [
        {
          "data": {"name": "diff"},
          "mark": {"type": "line", "color": "black", "strokeWidth": 1.1},
          "encoding": {
            "x": {"field": "year", "type": "quantitative", "scale": {"domain": [1954, 2001], "nice": false, "zero": false}, "axis": null},
            "y": {"field": "value", "type": "quantitative", "scale": {"domain": [-0.782, 3.355], "nice": false, "zero": false},
              "axis": {"orient": "left", "offset": -475, "values": [-0.5, 0, 0.5], "tickSize": -10, "tickWidth": 1.5, "labelFontSize": 25, "labelPadding": 10, "labelExpr": "datum.value == 0 ? '0.0' : '' + datum.value", "title": null}}
          }
        },
        {
          "data": {"name": "smooth"},
          "mark": {"type": "line", "color": "black", "strokeWidth": 3.5, "interpolate": "monotone"},
          "encoding": {
            "x": {"field": "year", "type": "quantitative", "scale": {"domain": [1954, 2001], "nice": false, "zero": false}, "axis": null},
            "y": {"field": "value", "type": "quantitative", "scale": {"domain": [-0.782, 3.355], "nice": false, "zero": false},
              "axis": {"orient": "left", "offset": -475, "values": [-0.6,-0.5,-0.4,-0.3,-0.2,-0.1,0,0.1,0.2,0.3,0.4,0.5,0.6], "tickSize": -5, "tickWidth": 1.5, "labels": false, "title": null}}
          }
        },
        {
          "data": {"name": "inset_frame"},
          "mark": {"type": "rule", "color": "black", "strokeWidth": 1.8},
          "encoding": {
            "x": {"field": "x1", "type": "quantitative", "scale": {"domain": [1954, 2001], "nice": false, "zero": false}, "axis": null},
            "x2": {"field": "x2"},
            "y": {"field": "y1", "type": "quantitative", "scale": {"domain": [-0.782, 3.355], "nice": false, "zero": false}, "axis": null},
            "y2": {"field": "y2"}
          }
        },
        {
          "data": {"name": "inset_label"},
          "mark": {"type": "text", "fontSize": 26, "align": "right", "baseline": "alphabetic"},
          "encoding": {
            "x": {"field": "year", "type": "quantitative", "scale": {"domain": [1954, 2001], "nice": false, "zero": false}, "axis": null},
            "y": {"field": "value", "type": "quantitative", "scale": {"domain": [-0.782, 3.355], "nice": false, "zero": false}, "axis": null},
            "text": {"field": "name"}
          }
        }
      ],
      "resolve": {"axis": {"x": "independent", "y": "independent"}}
    }
  ],
  "resolve": {"scale": {"y": "independent"}, "axis": {"x": "independent", "y": "independent"}}
}
